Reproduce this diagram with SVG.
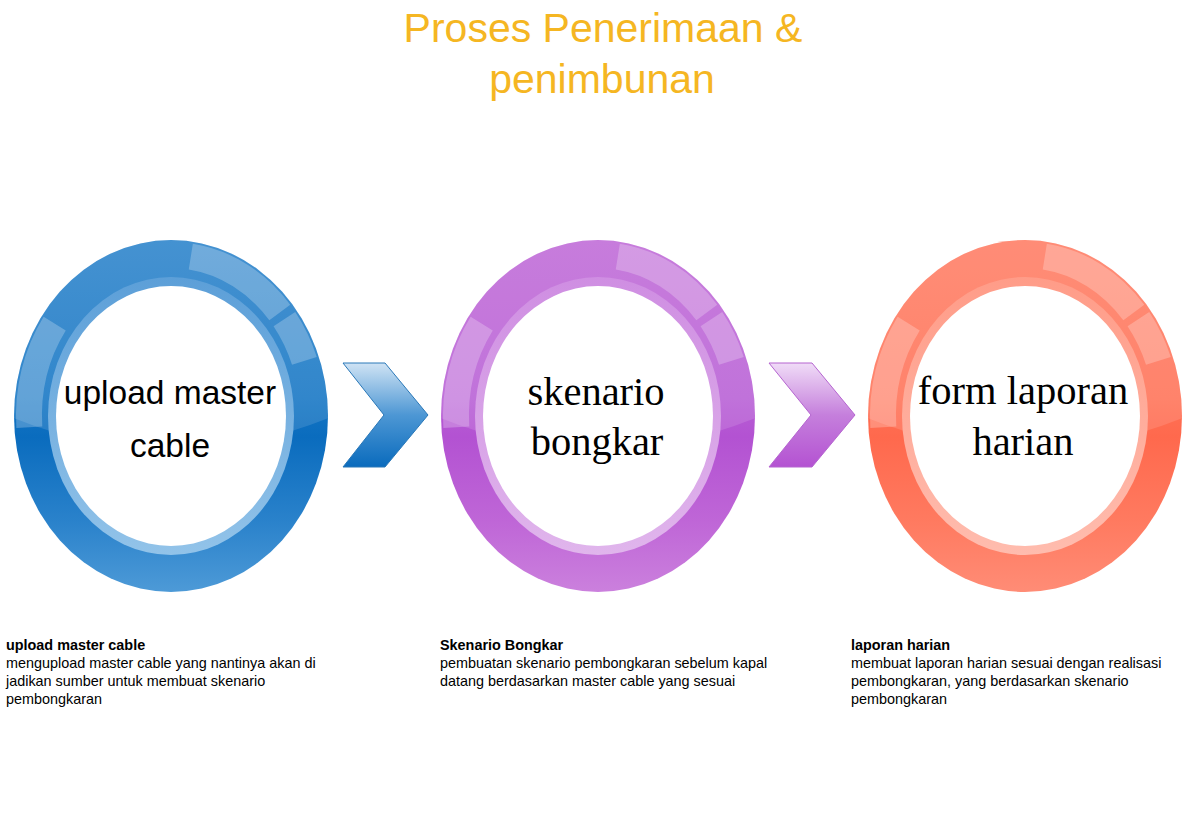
<svg xmlns="http://www.w3.org/2000/svg" width="1189" height="840" viewBox="0 0 1189 840">
<defs>
<style>
.title{font-family:"Liberation Sans",Arial,sans-serif;font-size:41px;fill:#f5b622;text-anchor:middle}
.lblSans{font-family:"Liberation Sans",Arial,sans-serif;font-size:33.5px;fill:#000;text-anchor:middle}
.lblSerif{font-family:"Liberation Serif","Times New Roman",serif;font-size:40.5px;fill:#000;text-anchor:middle}
.desc{font-family:"Liberation Sans",Arial,sans-serif;font-size:14.4px;fill:#000}
.descB{font-family:"Liberation Sans",Arial,sans-serif;font-size:14.4px;font-weight:bold;fill:#000}
.gloss{fill:#fff;fill-opacity:0.12}
.hl{fill:none;stroke:#fff;stroke-opacity:0.24;stroke-width:26}
.white{fill:#fff}
</style>
<clipPath id="ringClip" clipPathUnits="userSpaceOnUse"><ellipse cx="0" cy="0" rx="157" ry="176"/></clipPath>
<linearGradient id="bandBlue" x1="0" y1="0" x2="0" y2="1">
<stop offset="0" stop-color="#2b83cb"/><stop offset="0.45" stop-color="#1576c4"/><stop offset="0.56" stop-color="#0a6cbe"/><stop offset="0.8" stop-color="#2a82cb"/><stop offset="1" stop-color="#4d9ad7"/>
</linearGradient>
<linearGradient id="innerBlue" x1="0" y1="0" x2="0" y2="1"><stop offset="0" stop-color="#5c9fd8"/><stop offset="1" stop-color="#92c3e9"/></linearGradient>
<linearGradient id="bandPurple" x1="0" y1="0" x2="0" y2="1">
<stop offset="0" stop-color="#c06ad8"/><stop offset="0.45" stop-color="#b85fd5"/><stop offset="0.56" stop-color="#b352d2"/><stop offset="0.8" stop-color="#bf66d7"/><stop offset="1" stop-color="#cb80dd"/>
</linearGradient>
<linearGradient id="innerPurple" x1="0" y1="0" x2="0" y2="1"><stop offset="0" stop-color="#cf8ee2"/><stop offset="1" stop-color="#e0b5ec"/></linearGradient>
<linearGradient id="bandCoral" x1="0" y1="0" x2="0" y2="1">
<stop offset="0" stop-color="#ff7d64"/><stop offset="0.45" stop-color="#ff7257"/><stop offset="0.56" stop-color="#ff694d"/><stop offset="0.8" stop-color="#ff7a60"/><stop offset="1" stop-color="#ff8c76"/>
</linearGradient>
<linearGradient id="innerCoral" x1="0" y1="0" x2="0" y2="1"><stop offset="0" stop-color="#ff9c88"/><stop offset="1" stop-color="#ffbcae"/></linearGradient>
<linearGradient id="arrowBlue" x1="0" y1="0" x2="0" y2="1"><stop offset="0" stop-color="#cfe3f4"/><stop offset="0.5" stop-color="#4d97d4"/><stop offset="1" stop-color="#0a6bbd"/></linearGradient>
<linearGradient id="arrowPurple" x1="0" y1="0" x2="0" y2="1"><stop offset="0" stop-color="#f0dcf7"/><stop offset="0.5" stop-color="#c57fdc"/><stop offset="1" stop-color="#b452d2"/></linearGradient>
<g id="ringDeco">
<path class="gloss" clip-path="url(#ringClip)" d="M-160,1 Q0,66 160,1 L160,-180 L-160,-180 Z"/>
<path class="hl" d="M19.8,-159.4 A142,161 0 0 1 108.8,-103.5"/>
<path class="hl" d="M113.4,-96.9 A142,161 0 0 1 133.4,-55.1"/>
<path class="hl" d="M-116.3,-92.4 A142,161 0 0 0 -141.7,11.2"/>
</g>
</defs>
<rect width="1189" height="840" fill="#fff"/>

<g id="title">
<text class="title" x="603" y="42">Proses Penerimaan &amp;</text>
<text class="title" x="602" y="93">penimbunan</text>
</g>

<g id="node-upload">
<g transform="translate(171,416)">
<ellipse rx="157" ry="176" fill="url(#bandBlue)"/>
<use href="#ringDeco"/>
<ellipse rx="123" ry="139" fill="url(#innerBlue)"/>
<ellipse class="white" rx="115" ry="130"/>
</g>
<text class="lblSans" x="170" y="404">upload master</text>
<text class="lblSans" x="170" y="457">cable</text>
</g>

<g id="node-skenario">
<g transform="translate(598,416)">
<ellipse rx="157" ry="176" fill="url(#bandPurple)"/>
<use href="#ringDeco"/>
<ellipse rx="123" ry="139" fill="url(#innerPurple)"/>
<ellipse class="white" rx="115" ry="130"/>
</g>
<text class="lblSerif" x="596" y="405">skenario</text>
<text class="lblSerif" x="597" y="455">bongkar</text>
</g>

<g id="node-laporan">
<g transform="translate(1025,416)">
<ellipse rx="157" ry="176" fill="url(#bandCoral)"/>
<use href="#ringDeco"/>
<ellipse rx="123" ry="139" fill="url(#innerCoral)"/>
<ellipse class="white" rx="115" ry="130"/>
</g>
<text class="lblSerif" x="1023" y="404">form laporan</text>
<text class="lblSerif" x="1023" y="455">harian</text>
</g>

<g id="connectors">
<polygon points="343,363 385,363 428,415 385,467 343,467 384,415" fill="url(#arrowBlue)" stroke="#2a78b8" stroke-width="1" stroke-linejoin="miter"/>
<polygon points="769,363 812,363 855,415 812,467 769,467 811,415" fill="url(#arrowPurple)" stroke="#b565d0" stroke-width="1" stroke-linejoin="miter"/>
</g>

<g id="desc-upload">
<text class="descB" x="6" y="650">upload master cable</text>
<text class="desc" x="6" y="668">mengupload master cable yang nantinya akan di</text>
<text class="desc" x="6" y="686">jadikan sumber untuk membuat skenario</text>
<text class="desc" x="6" y="704">pembongkaran</text>
</g>

<g id="desc-skenario">
<text class="descB" x="440" y="650">Skenario Bongkar</text>
<text class="desc" x="440" y="668">pembuatan skenario pembongkaran sebelum kapal</text>
<text class="desc" x="440" y="686">datang berdasarkan master cable yang sesuai</text>
</g>

<g id="desc-laporan">
<text class="descB" x="851" y="650">laporan harian</text>
<text class="desc" x="851" y="668">membuat laporan harian sesuai dengan realisasi</text>
<text class="desc" x="851" y="686">pembongkaran, yang berdasarkan skenario</text>
<text class="desc" x="851" y="704">pembongkaran</text>
</g>
</svg>
